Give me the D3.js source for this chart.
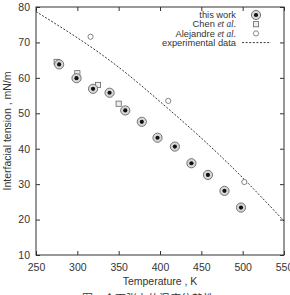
<!DOCTYPE html>
<html>
<head>
<meta charset="utf-8">
<script src="https://cdn.jsdelivr.net/npm/d3@7"></script>
<style>
	body { margin: 0; background: #fff; }
	svg { display: block; font-family: "Liberation Sans", Arial, sans-serif; }
</style>
</head>
<body>
<svg id="chart" width="290" height="295"></svg>
<script>
// this work
const workT = [278, 299, 319, 339, 358, 378, 397, 418, 438, 458, 478, 498];
const workG = [63.8, 59.9, 56.9, 55.8, 50.8, 47.6, 43.1, 40.6, 35.9, 32.6, 28.1, 23.4];
// Chen et al.
const chenT = [275, 300, 325, 350];
const chenG = [64.5, 61.3, 58.0, 52.7];
// Alejandre et al.
const aleT = [316, 410, 502];
const aleG = [71.6, 53.5, 30.6];
// experimental data
const expT = [250, 300, 350, 400, 450, 500, 550];
const expG = [78.7, 71.3, 63.0, 53.3, 43.0, 31.8, 19.6];

const xTicks = [250, 300, 350, 400, 450, 500, 550];
const yTicks = [10, 20, 30, 40, 50, 60, 70, 80];

const margin = {top: 7, right: 6, bottom: 40, left: 36};
const W = 290, H = 295;
const w = W - margin.left - margin.right;
const h = 255 - margin.top;

const svg = d3.select("#chart");
const g = svg.append("g").attr("transform", `translate(${margin.left},${margin.top})`);

const x = d3.scaleLinear().domain([250, 550]).range([0, w]);
const y = d3.scaleLinear().domain([10, 80]).range([h, 0]);

const txt = "#333";

// axes, ticks pointing inwards on all four sides
const axisStyle = sel => {
	sel.select(".domain").remove();
	sel.selectAll("line").attr("stroke", "#333");
	sel.selectAll("text").attr("fill", txt).attr("font-size", 10.5);
};

g.append("g").attr("transform", `translate(0,${h})`)
	.call(d3.axisBottom(x).tickValues(xTicks).tickSize(-4).tickPadding(6).tickFormat(d3.format("d")))
	.call(axisStyle)
	.selectAll("text").attr("dy", "0.95em");
g.append("g")
	.call(d3.axisTop(x).tickValues(xTicks).tickSize(-4).tickFormat(""))
	.call(axisStyle);
g.append("g")
	.call(d3.axisLeft(y).tickValues(yTicks).tickSize(-4).tickPadding(6))
	.call(axisStyle);
g.append("g").attr("transform", `translate(${w},0)`)
	.call(d3.axisRight(y).tickValues(yTicks).tickSize(-4).tickFormat(""))
	.call(axisStyle);

g.append("rect")
	.attr("width", w).attr("height", h)
	.attr("fill", "none").attr("stroke", "#333").attr("stroke-width", 1);

// labels
svg.append("text")
	.attr("x", margin.left + w / 2).attr("y", 285)
	.attr("text-anchor", "middle").attr("font-size", 10.5).attr("fill", txt)
	.text("Temperature , K");
svg.append("text")
	.attr("transform", `translate(11,${margin.top + h / 2}) rotate(-90)`)
	.attr("text-anchor", "middle").attr("font-size", 10.5).attr("fill", txt)
	.text("Interfacial tension , mN/m");

// caption below, mostly cut off by the window edge
svg.append("text")
	.attr("x", 148).attr("y", 303)
	.attr("text-anchor", "middle").attr("font-size", 11).attr("fill", txt)
	.attr("font-family", "Noto Sans CJK SC")
	.text("图 4   介面张力的温度依赖性");

// experimental data line
const line = d3.line()
	.x((d, i) => x(expT[i]))
	.y(d => y(d))
	.curve(d3.curveNatural);

g.append("clipPath").attr("id", "clip")
	.append("rect").attr("width", w).attr("height", h);

g.append("path")
	.datum(expG)
	.attr("clip-path", "url(#clip)")
	.attr("d", line)
	.attr("fill", "none")
	.attr("stroke", "#222")
	.attr("stroke-width", 0.9)
	.attr("stroke-dasharray", "2,1.6");

// symbols
const drawWork = (sel) => {
	sel.append("circle").attr("r", 4.6).attr("fill", "#d8d8d8").attr("stroke", "#555").attr("stroke-width", 0.8);
	sel.append("circle").attr("r", 2.1).attr("fill", "#111");
};
const drawChen = (sel) => {
	sel.append("rect").attr("x", -2.6).attr("y", -2.6).attr("width", 5.2).attr("height", 5.2)
		.attr("fill", "#eee").attr("stroke", "#666").attr("stroke-width", 0.8);
};
const drawAle = (sel) => {
	sel.append("circle").attr("r", 2.6).attr("fill", "#fff").attr("stroke", "#666").attr("stroke-width", 0.8);
};

g.selectAll(".chen").data(chenT).join("g")
	.attr("class", "chen")
	.attr("transform", (d, i) => `translate(${x(d)},${y(chenG[i])})`)
	.call(drawChen);
g.selectAll(".ale").data(aleT).join("g")
	.attr("class", "ale")
	.attr("transform", (d, i) => `translate(${x(d)},${y(aleG[i])})`)
	.call(drawAle);
g.selectAll(".work").data(workT).join("g")
	.attr("class", "work")
	.attr("transform", (d, i) => `translate(${x(d)},${y(workG[i])})`)
	.call(drawWork);

// legend
const legend = svg.append("g").attr("font-size", 9.3).attr("fill", txt);
const rows = [
	{name: "this work", etal: false, draw: drawWork},
	{name: "Chen ", etal: true, draw: drawChen},
	{name: "Alejandre ", etal: true, draw: drawAle},
	{name: "experimental data", etal: false, draw: null}
];
rows.forEach((r, i) => {
	const ly = 15 + i * 9.2;
	const t = legend.append("text")
		.attr("x", 236).attr("y", ly).attr("dy", "0.35em")
		.attr("text-anchor", "end");
	t.append("tspan").text(r.name);
	if (r.etal)
		t.append("tspan").attr("font-family", "Liberation Serif, serif").attr("font-style", "italic").text("et al.");
	if (r.draw)
		legend.append("g").attr("transform", `translate(256,${ly})`).call(r.draw);
	else
		legend.append("line")
			.attr("x1", 242).attr("x2", 271).attr("y1", ly).attr("y2", ly)
			.attr("stroke", "#222").attr("stroke-width", 0.9).attr("stroke-dasharray", "2,1.6");
});
</script>
</body>
</html>
